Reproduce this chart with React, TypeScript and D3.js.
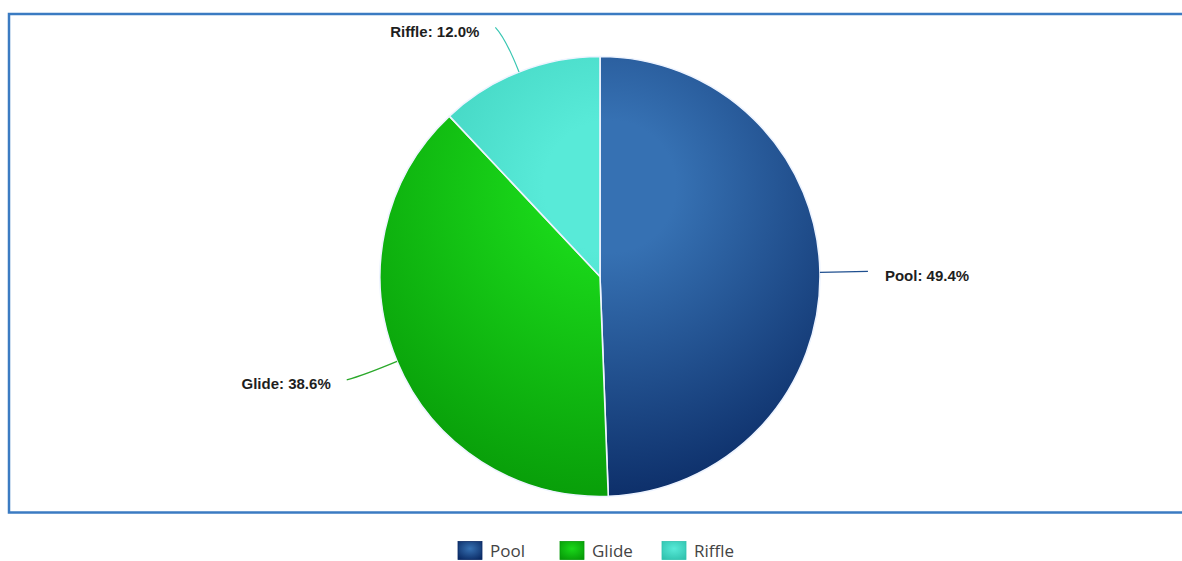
import React from "react";
import * as d3 from "d3";

const categories = ["Pool", "Glide", "Riffle"];
const values = [49.4, 38.6, 12.0];
const lightColors = ["#3671b3", "#1ad81a", "#58ead8"];
const darkColors = ["#0a2a64", "#079a08", "#30c2ae"];
const lineColors = ["#1f4f8f", "#2aa82a", "#38c6b2"];

const W = 1182;
const H = 561;

export default function App() {
  const cx = 600;
  const cy = 276.5;
  const r = 220;

  const pie = d3.pie<number>().sort(null).value((d) => d)(values);
  const arc = d3.arc<d3.PieArcDatum<number>>().innerRadius(0).outerRadius(r);
  const total = d3.sum(values);

  const polar = (a: number, rad: number): [number, number] => [
    cx + rad * Math.sin(a),
    cy - rad * Math.cos(a),
  ];

  const legendX = d3
    .scalePoint<string>()
    .domain(categories)
    .range([458, 662]);

  return (
    <svg
      width={W}
      height={H}
      style={{ position: "absolute", left: 0, top: 0, display: "block" }}
    >
      <defs>
        {categories.map((c, i) => (
          <radialGradient
            key={c}
            id={`g${i}`}
            gradientUnits="userSpaceOnUse"
            cx={10}
            cy={-90}
            r={r * 1.5}
          >
            <stop offset="0" stopColor={lightColors[i]} />
            <stop offset="0.2" stopColor={lightColors[i]} />
            <stop offset="1" stopColor={darkColors[i]} />
          </radialGradient>
        ))}
        {categories.map((c, i) => (
          <radialGradient key={c + "l"} id={`lg${i}`} cx="0.5" cy="0.4" r="0.7">
            <stop offset="0" stopColor={lightColors[i]} />
            <stop offset="1" stopColor={darkColors[i]} />
          </radialGradient>
        ))}
      </defs>
      <rect x={0} y={0} width={W} height={H} fill="#ffffff" />
      <rect
        x={9}
        y={14}
        width={W + 20}
        height={498.5}
        fill="#ffffff"
        stroke="#3b7bc2"
        strokeWidth={2.5}
      />
      <g transform={`translate(${cx},${cy})`}>
        {pie.map((p, i) => (
          <path
            key={categories[i]}
            d={arc(p) || ""}
            fill={`url(#g${i})`}
            stroke="#eef4ff"
            strokeWidth={1.6}
            strokeLinejoin="round"
          />
        ))}
      </g>
      {pie.map((p, i) => {
        const mid = (p.startAngle + p.endAngle) / 2;
        const [x0, y0] = polar(mid, r);
        const [xc, yc] = polar(mid, r + 36);
        const [x1, y1] = polar(mid, r + 48);
        const right = Math.sin(mid) >= 0;
        const xe = x1 + (right ? 0 : -6);
        const ye = y1;
        const tx = xe + (right ? 17 : -16);
        const pct = ((values[i] / total) * 100).toFixed(1);
        return (
          <g key={"lab" + categories[i]}>
            <path
              d={`M${x0},${y0} Q${xc},${yc} ${xe},${ye}`}
              fill="none"
              stroke={lineColors[i]}
              strokeWidth={1.2}
            />
            <text
              x={tx}
              y={ye + 4.5}
              dy="0.32em"
              textAnchor={right ? "start" : "end"}
              fontFamily="Arial, 'Liberation Sans', sans-serif"
              fontWeight="bold"
              fontSize={15}
              fill="#1e1e1e"
            >
              {`${categories[i]}: ${pct}%`}
            </text>
          </g>
        );
      })}
      {categories.map((c, i) => {
        const x = legendX(c) as number;
        return (
          <g key={"leg" + c}>
            <rect
              x={x}
              y={541.5}
              width={24}
              height={18}
              fill={`url(#lg${i})`}
              stroke={darkColors[i]}
              strokeWidth={0.8}
            />
            <text
              x={x + 32}
              y={557}
              fontFamily="'Open Sans', 'Noto Sans', sans-serif"
              fontSize={17}
              fill="#444"
            >
              {c}
            </text>
          </g>
        );
      })}
    </svg>
  );
}
